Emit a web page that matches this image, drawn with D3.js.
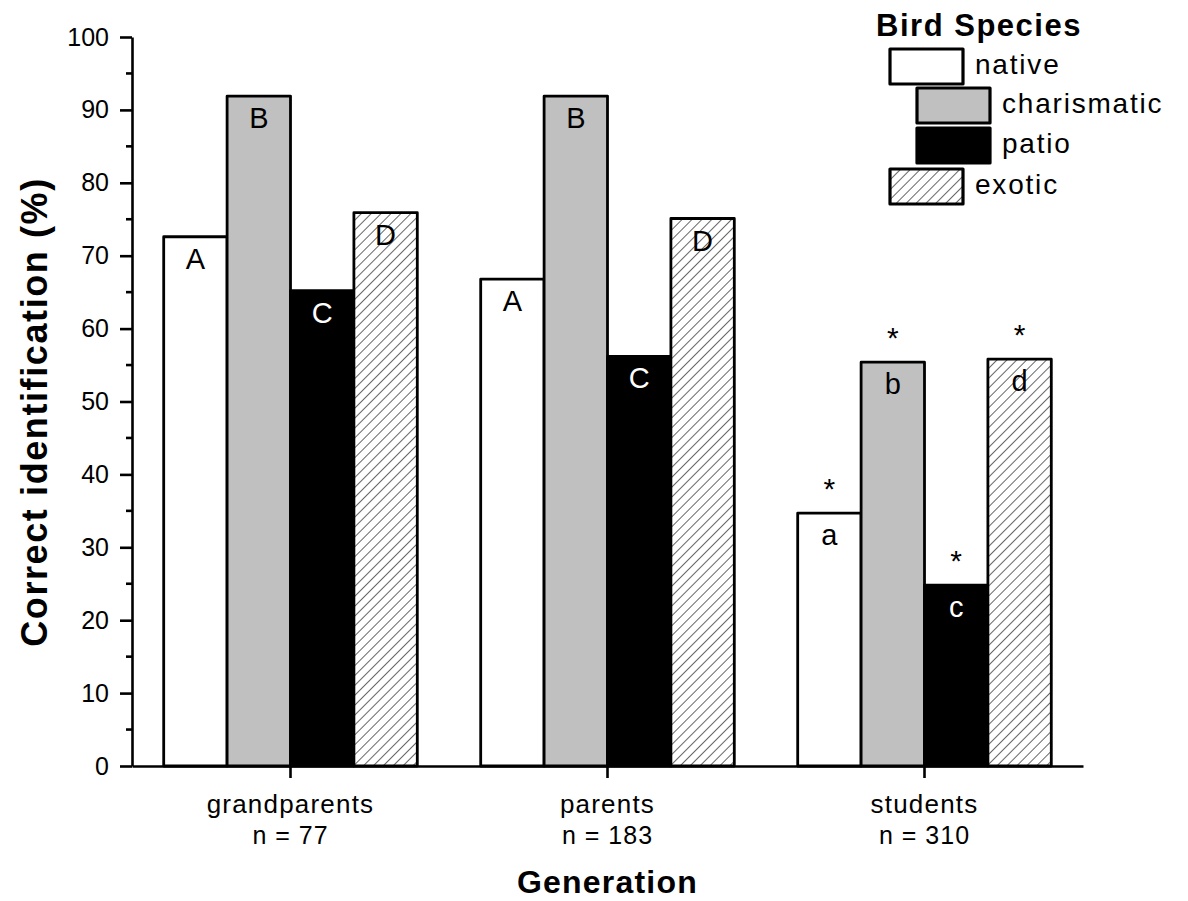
<!DOCTYPE html>
<html>
<head>
<meta charset="utf-8">
<script src="https://cdn.jsdelivr.net/npm/d3@7"></script>
<style>
  html, body { margin: 0; padding: 0; background: #fff; }
  svg { display: block; font-family: Arial, "Liberation Sans", sans-serif; }
</style>
</head>
<body>
<svg id="chart" width="1188" height="901"></svg>
<script>
// Generations on the x axis, with sample sizes
const generations = ["grandparents", "parents", "students"];
const sampleSizes = ["n = 77", "n = 183", "n = 310"];

// Bird species groups
const species = ["native", "charismatic", "patio", "exotic"];

// Correct identification (%) per generation, one array per species group
const nativeValues      = [72.6, 66.8, 34.7];
const charismaticValues = [91.9, 91.9, 55.4];
const patioValues       = [65.2, 56.2, 24.8];
const exoticValues      = [75.9, 75.1, 55.8];

// Significance letters inside each bar
const nativeLetters      = ["A", "A", "a"];
const charismaticLetters = ["B", "B", "b"];
const patioLetters       = ["C", "C", "c"];
const exoticLetters      = ["D", "D", "d"];

// Asterisks mark a significant difference for the students group
const nativeStars      = ["", "", "*"];
const charismaticStars = ["", "", "*"];
const patioStars       = ["", "", "*"];
const exoticStars      = ["", "", "*"];

const yTicks = [0, 10, 20, 30, 40, 50, 60, 70, 80, 90, 100];

const seriesValues  = [nativeValues, charismaticValues, patioValues, exoticValues];
const seriesLetters = [nativeLetters, charismaticLetters, patioLetters, exoticLetters];
const seriesStars   = [nativeStars, charismaticStars, patioStars, exoticStars];

const rows = [];
generations.forEach((g, gi) => {
  species.forEach((s, si) => {
    rows.push({
      generation: g, species: s,
      value: seriesValues[si][gi],
      letter: seriesLetters[si][gi],
      star: seriesStars[si][gi]
    });
  });
});

const svg = d3.select("#chart");
const margin = { left: 132, right: 105, top: 37, bottom: 135 };
const width = 1188, height = 901;

const x0 = d3.scaleBand()
  .domain(generations)
  .range([margin.left, width - margin.right])
  .paddingInner(0).paddingOuter(0);

const groupWidth = x0.bandwidth() * 0.8;
const x1 = d3.scaleBand()
  .domain(species)
  .range([0, groupWidth])
  .padding(0);

const y = d3.scaleLinear()
  .domain([0, 100])
  .range([height - margin.bottom, margin.top]);

// Hatch pattern for the exotic group
const defs = svg.append("defs");
const hatch = defs.append("pattern")
  .attr("id", "hatch")
  .attr("patternUnits", "userSpaceOnUse")
  .attr("width", 7).attr("height", 7)
  .attr("patternTransform", "rotate(45)");
hatch.append("rect").attr("width", 7).attr("height", 7).attr("fill", "#fff");
hatch.append("line")
  .attr("x1", 0).attr("y1", -1).attr("x2", 0).attr("y2", 8)
  .attr("stroke", "#000").attr("stroke-width", 1.2);

const fillFor = {
  native: "#ffffff",
  charismatic: "#c0c0c0",
  patio: "#000000",
  exotic: "url(#hatch)"
};
const letterColor = { native: "#000", charismatic: "#000", patio: "#fff", exotic: "#000" };

const barX = d => x0(d.generation) + (x0.bandwidth() - groupWidth) / 2 + x1(d.species);

// Bars
svg.append("g")
  .selectAll("rect")
  .data(rows)
  .join("rect")
  .attr("x", barX)
  .attr("y", d => y(d.value))
  .attr("width", x1.bandwidth())
  .attr("height", d => y(0) - y(d.value))
  .attr("fill", d => fillFor[d.species])
  .attr("stroke", "#000")
  .attr("stroke-width", 2.8)
  .attr("stroke-linejoin", "round");

// Letters in bars
svg.append("g")
  .selectAll("text")
  .data(rows)
  .join("text")
  .attr("x", d => barX(d) + x1.bandwidth() / 2)
  .attr("y", d => y(d.value) + 32)
  .attr("text-anchor", "middle")
  .attr("font-size", 29)
  .attr("fill", d => letterColor[d.species])
  .text(d => d.letter);

// Asterisks above bars
svg.append("g")
  .selectAll("text")
  .data(rows.filter(d => d.star))
  .join("text")
  .attr("x", d => barX(d) + x1.bandwidth() / 2)
  .attr("y", d => y(d.value) - 14)
  .attr("text-anchor", "middle")
  .attr("font-size", 30)
  .text(d => d.star);

// Y axis
const yAxis = svg.append("g")
  .attr("transform", `translate(${margin.left},0)`)
  .call(d3.axisLeft(y).tickValues(yTicks).tickSize(12).tickPadding(11).tickSizeOuter(0));
yAxis.select(".domain").attr("stroke-width", 2.6);
yAxis.selectAll(".tick line").attr("stroke-width", 2.6);
yAxis.selectAll(".tick text")
  .attr("font-size", 25)
  .attr("font-family", "Arial, 'Liberation Sans', sans-serif")
  .attr("fill", "#000");

// Minor ticks at every 5
const minorTicks = d3.range(5, 100, 10);
svg.append("g")
  .selectAll("line")
  .data(minorTicks)
  .join("line")
  .attr("x1", margin.left - 6).attr("x2", margin.left)
  .attr("y1", d => y(d)).attr("y2", d => y(d))
  .attr("stroke", "#000").attr("stroke-width", 2.6);

// X axis
const xAxis = svg.append("g")
  .attr("transform", `translate(0,${y(0)})`)
  .call(d3.axisBottom(x0).tickSize(12).tickSizeOuter(0).tickFormat(""));
xAxis.select(".domain").attr("stroke-width", 2.6);
xAxis.selectAll(".tick line").attr("stroke-width", 2.6);

// Category labels with sample sizes
const catLabels = svg.append("g");
generations.forEach((g, i) => {
  const cx = x0(g) + x0.bandwidth() / 2;
  catLabels.append("text")
    .attr("x", cx).attr("y", y(0) + 47)
    .attr("text-anchor", "middle").attr("font-size", 26)
    .attr("letter-spacing", 1.2)
    .text(g);
  catLabels.append("text")
    .attr("x", cx).attr("y", y(0) + 78)
    .attr("text-anchor", "middle").attr("font-size", 25)
    .attr("letter-spacing", 1)
    .text(sampleSizes[i]);
});

// Axis titles
svg.append("text")
  .attr("x", (margin.left + width - margin.right) / 2)
  .attr("y", 893)
  .attr("text-anchor", "middle")
  .attr("font-size", 32).attr("font-weight", "bold")
  .attr("letter-spacing", 1.2)
  .text("Generation");

svg.append("text")
  .attr("transform", `translate(47,412) rotate(-90)`)
  .attr("text-anchor", "middle")
  .attr("font-size", 36).attr("font-weight", "bold")
  .attr("letter-spacing", 1.6)
  .text("Correct identification (%)");

// Legend
const legend = svg.append("g");
legend.append("text")
  .attr("x", 979).attr("y", 36)
  .attr("text-anchor", "middle")
  .attr("font-size", 31).attr("font-weight", "bold")
  .attr("letter-spacing", 1.5)
  .text("Bird Species");

const legendIndent = { native: 0, charismatic: 27, patio: 27, exotic: 0 };
const legendRowY = [49, 88, 128, 169];
species.forEach((s, i) => {
  const bx = 890 + legendIndent[s];
  const by = legendRowY[i];
  legend.append("rect")
    .attr("x", bx).attr("y", by)
    .attr("width", 73).attr("height", 35)
    .attr("fill", fillFor[s])
    .attr("stroke", "#000").attr("stroke-width", 3.2)
    .attr("stroke-linejoin", "round");
  legend.append("text")
    .attr("x", bx + 85).attr("y", by + 25)
    .attr("font-size", 28)
    .attr("letter-spacing", 1.8)
    .text(s);
});
</script>
</body>
</html>
